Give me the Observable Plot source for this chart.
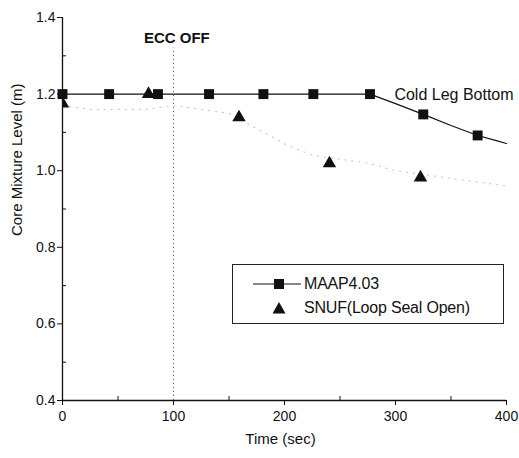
<!DOCTYPE html>
<html>
<head>
<meta charset="utf-8">
<script src="https://cdn.jsdelivr.net/npm/d3@7"></script>
<script src="https://cdn.jsdelivr.net/npm/@observablehq/plot@0.6"></script>
<style>
  body { margin: 0; background: #fff; }
  #wrap { position: relative; width: 519px; height: 458px; font-family: "Liberation Sans", Arial, sans-serif; }
  #legend { position: absolute; left: 232px; top: 264px; width: 272px; height: 60px; border: 1px solid #222; box-sizing: border-box; background: #fff; }
  .entry { position: absolute; left: 0; height: 20px; display: flex; align-items: center; font-size: 16px; color: #111; letter-spacing: -0.2px; }
</style>
</head>
<body>
<div id="wrap"></div>
<script>
// MAAP4.03 markers (time s, level m)
const maapTime  = [0, 42, 86, 132, 181, 226, 277, 325, 374];
const maapLevel = [1.2, 1.2, 1.2, 1.2, 1.2, 1.2, 1.2, 1.147, 1.092];
// MAAP4.03 continuous curve
const maapCurveTime  = [0, 277, 300, 325, 350, 374, 390, 400];
const maapCurveLevel = [1.2, 1.2, 1.175, 1.147, 1.118, 1.092, 1.079, 1.071];
// SNUF (Loop Seal Open) markers
const snufTime  = [0, 77.5, 159, 240.5, 322.5];
const snufLevel = [1.175, 1.2, 1.139, 1.019, 0.982];
// SNUF faint continuous trace
const snufTraceTime  = [0, 25, 50, 75, 100, 125, 150, 175, 200, 225, 250, 275, 300, 325, 350, 375, 400];
const snufTraceLevel = [1.17, 1.16, 1.16, 1.16, 1.17, 1.16, 1.15, 1.11, 1.07, 1.04, 1.03, 1.02, 1.0, 0.99, 0.98, 0.97, 0.96];
// Axis ticks
const xMajor = [0, 100, 200, 300, 400];
const xMinor = [50, 150, 250, 350];
const yMajor = [0.4, 0.6, 0.8, 1.0, 1.2, 1.4];
const yMinor = [0.5, 0.7, 0.9, 1.1, 1.3];
// Annotations
const eccTime = 100;
const eccLineTop = 1.32;
const eccLabel = {text: "ECC OFF", x: 103, y: 1.345};
const coldLeg = {text: "Cold Leg Bottom", x: 299, y: 1.197};
const seriesNames = ["MAAP4.03", "SNUF(Loop Seal Open)"];

const maap = maapTime.map((t, i) => ({t, v: maapLevel[i]}));
const maapCurve = maapCurveTime.map((t, i) => ({t, v: maapCurveLevel[i]}));
const snuf = snufTime.map((t, i) => ({t, v: snufLevel[i]}));
const snufTrace = snufTraceTime.map((t, i) => ({t, v: snufTraceLevel[i]}));

const chart = Plot.plot({
  width: 519, height: 458,
  marginLeft: 62, marginRight: 13, marginTop: 17, marginBottom: 58,
  style: {fontFamily: '"Liberation Sans", Arial, sans-serif', fontSize: "14px", color: "#111", background: "#fff"},
  x: {domain: [0, 400]},
  y: {domain: [0.4, 1.4]},
  marks: [
    Plot.axisX({ticks: xMajor, tickSize: 5, tickPadding: 6, label: null, tickFormat: d3.format("d"), fontSize: 14}),
    Plot.axisX({ticks: xMinor, tickSize: -4, label: null, tickFormat: () => ""}),
    Plot.axisY({ticks: yMajor, tickSize: 5, tickPadding: 2, label: null, tickFormat: d3.format(".1f"), fontSize: 14}),
    Plot.axisY({ticks: yMinor, tickSize: -4, label: null, tickFormat: () => ""}),
    Plot.ruleX([0], {stroke: "#111", strokeWidth: 1.3}),
    Plot.ruleY([0.4], {stroke: "#111", strokeWidth: 1.3}),
    Plot.ruleX([eccTime], {y1: 0.4, y2: eccLineTop, stroke: "#666", strokeDasharray: "1.2,2.8"}),
    Plot.line(snufTrace, {x: "t", y: "v", stroke: "#c8c8c8", strokeWidth: 1.2, strokeDasharray: "1,6"}),
    Plot.line(maapCurve, {x: "t", y: "v", curve: "linear", stroke: "#111", strokeWidth: 1.2}),
    Plot.dot(maap, {x: "t", y: "v", symbol: "square", r: 5.6, fill: "#111"}),
    Plot.dot(snuf, {x: "t", y: "v", symbol: "triangle", r: 5, fill: "#111", clip: "frame"}),
    Plot.text([eccLabel], {x: "x", y: "y", text: "text", fontWeight: "bold", fontSize: 15, fill: "#111"}),
    Plot.text([coldLeg], {x: "x", y: "y", text: "text", textAnchor: "start", fontSize: 16, fill: "#111"}),
    Plot.text(["Core Mixture Level (m)"], {frameAnchor: "left", text: d => d, rotate: -90, dx: -45, dy: 27, fontSize: 15, fill: "#111"}),
    Plot.text(["Time (sec)"], {frameAnchor: "bottom", text: d => d, dy: 43, dx: -4, fontSize: 15, fill: "#111"})
  ]
});

const wrap = document.getElementById("wrap");
wrap.appendChild(chart);

// Legend overlay
const legend = document.createElement("div");
legend.id = "legend";
const sq = `<svg width="48" height="12"><line x1="0" y1="6" x2="48" y2="6" stroke="#111" stroke-width="1.2"/><rect x="21" y="1" width="10" height="10" fill="#111"/></svg>`;
const tri = `<svg width="48" height="14"><path d="M26,1 L32.5,12.5 L19.5,12.5 Z" fill="#111"/></svg>`;
legend.innerHTML =
  `<div class="entry" style="top:9px;left:20px">${sq}<span style="margin-left:3px">${seriesNames[0]}</span></div>` +
  `<div class="entry" style="top:33px;left:20px">${tri}<span style="margin-left:3px">${seriesNames[1]}</span></div>`;
wrap.appendChild(legend);
</script>
</body>
</html>
